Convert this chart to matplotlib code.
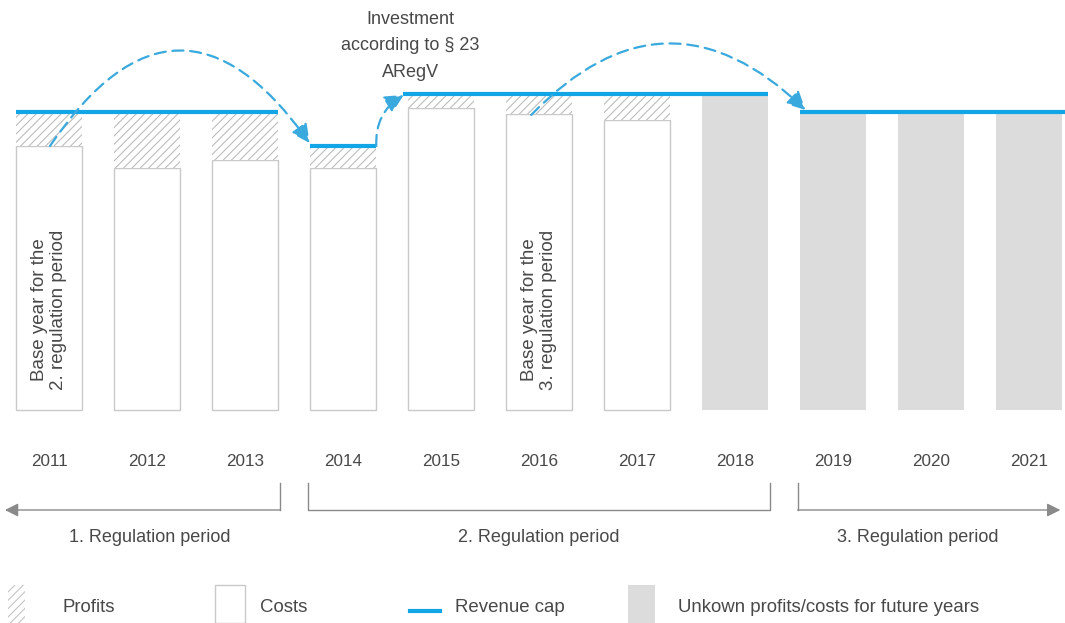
import matplotlib
matplotlib.use("Agg")
import matplotlib.pyplot as plt
from matplotlib.patches import Rectangle, FancyArrowPatch
import numpy as np

plt.rcParams["font.family"] = ["Liberation Sans", "DejaVu Sans"]
plt.rcParams["hatch.linewidth"] = 0.8

years = ["2011", "2012", "2013", "2014", "2015", "2016", "2017", "2018", "2019", "2020", "2021"]
costs = [264, 242, 250, 242, 302, 296, 290, None, None, None, None]
revenue_cap = [298, 298, 298, 264, 316, 316, 316, 316, 298, 298, 298]
unknown = [None, None, None, None, None, None, None, 315, 297, 297, 297]
periods = [(0, 2, "1. Regulation period"), (3, 7, "2. Regulation period"), (8, 10, "3. Regulation period")]
base_years = [0, 5]
base_labels = ["Base year for the\n2. regulation period", "Base year for the\n3. regulation period"]

CAP = "#12a6e6"
DASH = "#3aa9dd"
GRID = "#c9c9c9"
TXT = "#484848"
GRAY = "#dcdcdc"
ARROWGRAY = "#8a8a8a"

W, H = 1065, 623
fig = plt.figure(figsize=(W / 100, H / 100), dpi=100)
ax = fig.add_axes([0, 0, 1, 1])
step = 98.0
ax.set_xlim(-49 / step, (W - 49) / step)
ax.set_ylim(410 - H, 410)
ax.axis("off")

bw = 0.68
x = np.arange(len(years))

# bars
for i in x:
    if costs[i] is not None:
        ax.add_patch(Rectangle((i - bw / 2, 0), bw, costs[i], facecolor="white", edgecolor=GRID, lw=1))
        ax.add_patch(Rectangle((i - bw / 2, costs[i]), bw, revenue_cap[i] - costs[i],
                               facecolor="white", edgecolor="#bdbdbd", lw=0, hatch="////"))
    if unknown[i] is not None:
        ax.add_patch(Rectangle((i - bw / 2, 0), bw, unknown[i], facecolor=GRAY, edgecolor="none"))

# revenue cap steps
groups = [(0, 2), (3, 3), (4, 7), (8, 10)]
for a, b in groups:
    x0 = a - bw / 2 - (0.05 if a == 4 else 0)
    x1 = b + bw / 2 if b < len(years) - 1 else ax.get_xlim()[1]
    ax.plot([x0, x1], [revenue_cap[a], revenue_cap[a]], color=CAP, lw=3, solid_capstyle="butt", zorder=5)

# dashed arrows
def dashed_arrow(p0, p1, rad):
    ax.add_patch(FancyArrowPatch(p0, p1, connectionstyle=f"arc3,rad={rad}", arrowstyle="-|>",
                                 mutation_scale=28, color=DASH, lw=1.6, linestyle=(0, (5, 3)),
                                 shrinkA=0, shrinkB=0, zorder=6))

dashed_arrow((0.01, costs[0]), (2.66, revenue_cap[3] + 3), -0.72)
dashed_arrow((3.34, revenue_cap[3]), (3.62, revenue_cap[4] - 1), -0.3)
dashed_arrow((4.92, costs[5] - 1), (7.72, revenue_cap[8] + 2), -0.5)

# annotation
ax.text(3.69, 364, "Investment\naccording to § 23\nARegV", ha="center", va="center",
        fontsize=13, color=TXT, linespacing=1.75)

# base year labels
for i, lab in zip(base_years, base_labels):
    ax.text(i, 20, lab, rotation=90, ha="center", va="bottom", fontsize=13.5,
            color=TXT, linespacing=1.1)

# year labels
for i in x:
    ax.text(i, 410 - 462, years[i], ha="center", va="center", fontsize=12.3, color=TXT)

# regulation periods
yl = 410 - 510
ytop = 410 - 483
for k, (a, b, lab) in enumerate(periods):
    xl = a - bw / 2 - 0.02
    xr = b + bw / 2 + 0.02
    if k == 0:
        ax.plot([xr, xr], [ytop, yl], color=ARROWGRAY, lw=1)
        ax.annotate("", xy=(-0.45, yl), xytext=(xr, yl),
                    arrowprops=dict(arrowstyle="-|>", color=ARROWGRAY, lw=1, mutation_scale=20,
                                    shrinkA=0, shrinkB=0))
    elif k == len(periods) - 1:
        ax.plot([xl, xl], [ytop, yl], color=ARROWGRAY, lw=1)
        ax.annotate("", xy=(10.32, yl), xytext=(xl, yl),
                    arrowprops=dict(arrowstyle="-|>", color=ARROWGRAY, lw=1, mutation_scale=20,
                                    shrinkA=0, shrinkB=0))
    else:
        ax.plot([xl, xl, xr, xr], [ytop, yl, yl, ytop], color=ARROWGRAY, lw=1)
    cx = [(150 - 49) / step, (a + b) / 2, (918 - 49) / step][k]
    ax.text(cx, 410 - 537, lab, ha="center", va="center", fontsize=13, color=TXT)

# legend (figure coordinates in pixels)
def fx(px):
    return px / W

def fy(py):
    return 1 - py / H

fig.patches.append(Rectangle((fx(8), fy(623)), 17 / W, 38 / H, transform=fig.transFigure,
                             facecolor="white", edgecolor="#c4c4c4", lw=0, hatch="////"))
fig.text(fx(63), fy(607), "Profits", va="center", fontsize=13.4, color=TXT)
fig.patches.append(Rectangle((fx(215), fy(623)), 30 / W, 38 / H, transform=fig.transFigure,
                             facecolor="white", edgecolor=GRID, lw=1))
fig.text(fx(260), fy(607), "Costs", va="center", fontsize=13.4, color=TXT)
fig.lines.append(plt.Line2D([fx(410), fx(440)], [fy(611), fy(611)], transform=fig.transFigure,
                            color=CAP, lw=3))
fig.text(fx(455), fy(607), "Revenue cap", va="center", fontsize=13.4, color=TXT)
fig.patches.append(Rectangle((fx(628), fy(623)), 27 / W, 38 / H, transform=fig.transFigure,
                             facecolor=GRAY, edgecolor="none"))
fig.text(fx(678), fy(607), "Unkown profits/costs for future years", va="center", fontsize=13.4, color=TXT)

fig.savefig("out.png", dpi=100)
